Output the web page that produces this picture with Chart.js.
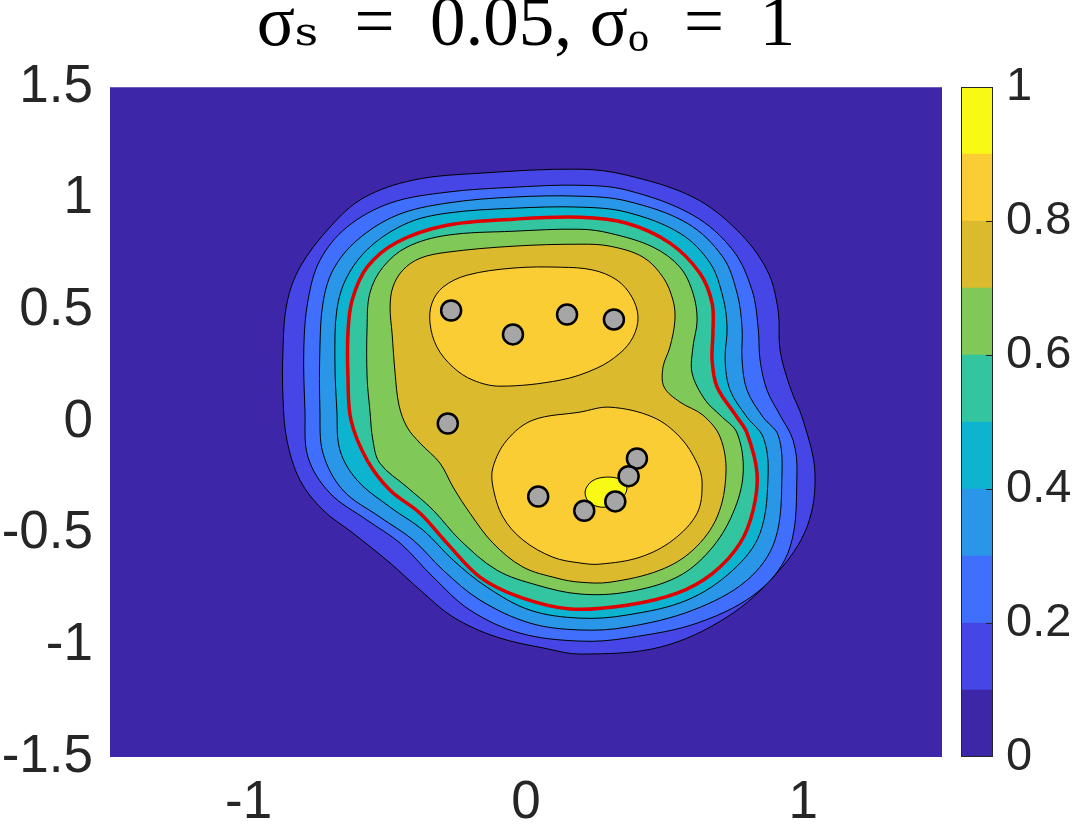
<!DOCTYPE html>
<html>
<head>
<meta charset="utf-8">
<script src="https://cdn.jsdelivr.net/npm/chart.js@4.4.1/dist/chart.umd.min.js"></script>
<style>
  body { margin: 0; background: #fff; }
  #wrap { position: relative; width: 1075px; height: 828px; }
  canvas { position: absolute; left: 0; top: 0; }
</style>
</head>
<body>
<div id="wrap">
  <canvas id="myChart" width="1075" height="828"></canvas>
  <canvas id="barChart" width="1075" height="828"></canvas>
</div>
<script>
// Colour bands of the filled contour (0-0.1, 0.1-0.2, ... 0.9-1)
var bandEdges = [0, 0.1, 0.2, 0.3, 0.4, 0.5, 0.6, 0.7, 0.8, 0.9, 1];
var bandColors = ['#3e26a8', '#4646e6', '#3f6ffc', '#2a96e8', '#0cb4cf',
                  '#33c4a0', '#80c857', '#dbba2e', '#fbcd34', '#f8fa15'];

// Tick labels
var xTicks = [-1, 0, 1];
var yTicks = [-1.5, -1, -0.5, 0, 0.5, 1, 1.5];
var barTicks = [0, 0.2, 0.4, 0.6, 0.8, 1];
var barMarks = [0.2, 0.4, 0.6, 0.8];

// The sample points (grey dots)
var sampleX = [-0.27, -0.047, 0.148, 0.317, -0.282, 0.400, 0.370, 0.044, 0.322, 0.210];
var sampleY = [0.500, 0.393, 0.482, 0.460, -0.006, -0.163, -0.242, -0.333, -0.355, -0.397];

// Contour lines, [x, y] per vertex
var c1 = [[0.195, 1.133], [0.364, 1.106], [0.602, 1.008], [0.761, 0.860], [0.869, 0.681],
  [0.909, 0.502], [0.916, 0.322], [0.952, 0.157], [0.999, 0.009], [1.042, -0.228],
  [1.013, -0.470], [0.905, -0.676], [0.725, -0.873], [0.483, -1.008], [0.195, -1.039],
  [0.076, -1.015], [-0.105, -0.963], [-0.263, -0.873], [-0.382, -0.752], [-0.490, -0.631],
  [-0.624, -0.497], [-0.732, -0.394], [-0.815, -0.260], [-0.862, -0.081], [-0.876, 0.099],
  [-0.876, 0.336], [-0.862, 0.533], [-0.815, 0.694], [-0.707, 0.873], [-0.588, 1.003],
  [-0.407, 1.084], [-0.166, 1.115]];

var c2 = [[0.195, 1.061], [0.364, 1.039], [0.602, 0.927], [0.746, 0.770], [0.815, 0.591],
  [0.837, 0.425], [0.844, 0.278], [0.869, 0.143], [0.916, 0.031], [0.963, -0.081],
  [0.977, -0.228], [0.952, -0.560], [0.844, -0.752], [0.627, -0.896], [0.364, -0.967],
  [0.195, -0.981], [-0.022, -0.945], [-0.202, -0.842], [-0.335, -0.694], [-0.454, -0.542],
  [-0.573, -0.439], [-0.707, -0.318], [-0.786, -0.157], [-0.797, 0.054], [-0.801, 0.336],
  [-0.786, 0.546], [-0.743, 0.725], [-0.646, 0.873], [-0.490, 0.981], [-0.285, 1.030],
  [-0.047, 1.052]];

var c3 = [[0.195, 1.012], [0.364, 0.990], [0.581, 0.891], [0.710, 0.739], [0.761, 0.578],
  [0.779, 0.425], [0.779, 0.278], [0.797, 0.143], [0.855, 0.022], [0.909, -0.058],
  [0.923, -0.228], [0.898, -0.528], [0.797, -0.708], [0.602, -0.842], [0.364, -0.918],
  [0.195, -0.931], [0.014, -0.900], [-0.166, -0.797], [-0.299, -0.663], [-0.407, -0.528],
  [-0.527, -0.425], [-0.660, -0.305], [-0.732, -0.139], [-0.743, 0.054], [-0.743, 0.336],
  [-0.732, 0.533], [-0.696, 0.681], [-0.609, 0.815], [-0.465, 0.927], [-0.285, 0.981],
  [-0.047, 1.008]];

var c4 = [[0.195, 0.963], [0.364, 0.940], [0.555, 0.846], [0.664, 0.712], [0.710, 0.560],
  [0.725, 0.425], [0.718, 0.278], [0.736, 0.143], [0.797, 0.022], [0.855, -0.067],
  [0.873, -0.228], [0.844, -0.497], [0.746, -0.663], [0.581, -0.797], [0.364, -0.864],
  [0.195, -0.878], [0.014, -0.842], [-0.141, -0.739], [-0.263, -0.618], [-0.371, -0.484],
  [-0.490, -0.381], [-0.609, -0.260], [-0.671, -0.125], [-0.682, 0.054], [-0.689, 0.278],
  [-0.682, 0.502], [-0.646, 0.649], [-0.563, 0.784], [-0.429, 0.891], [-0.285, 0.936],
  [-0.047, 0.958]];

// the red one, level 0.5
var c5 = [[0.195, 0.918], [0.364, 0.891], [0.519, 0.802], [0.627, 0.667], [0.671, 0.533],
  [0.674, 0.399], [0.671, 0.278], [0.689, 0.157], [0.761, 0.022], [0.797, -0.049],
  [0.833, -0.228], [0.819, -0.394], [0.772, -0.542], [0.674, -0.676], [0.545, -0.766],
  [0.364, -0.820], [0.159, -0.837], [-0.022, -0.784], [-0.166, -0.694], [-0.285, -0.542],
  [-0.382, -0.408], [-0.490, -0.305], [-0.573, -0.170], [-0.631, 0.009], [-0.642, 0.202],
  [-0.642, 0.399], [-0.627, 0.546], [-0.573, 0.694], [-0.465, 0.806], [-0.285, 0.882],
  [-0.047, 0.909]];

var c6 = [[0.195, 0.864], [0.303, 0.846], [0.458, 0.784], [0.555, 0.694], [0.602, 0.578],
  [0.617, 0.457], [0.602, 0.336], [0.599, 0.219], [0.646, 0.099], [0.700, 0.031],
  [0.761, -0.049], [0.783, -0.228], [0.746, -0.408], [0.664, -0.573], [0.545, -0.694],
  [0.364, -0.761], [0.195, -0.770], [0.040, -0.730], [-0.105, -0.663], [-0.238, -0.528],
  [-0.335, -0.394], [-0.429, -0.291], [-0.527, -0.184], [-0.552, -0.081], [-0.563, 0.054],
  [-0.573, 0.202], [-0.573, 0.425], [-0.563, 0.578], [-0.516, 0.694], [-0.429, 0.784],
  [-0.285, 0.837], [-0.047, 0.855]];

var c7 = [[0.195, 0.797], [0.303, 0.788], [0.422, 0.739], [0.494, 0.649], [0.530, 0.546],
  [0.537, 0.457], [0.519, 0.336], [0.494, 0.246], [0.498, 0.157], [0.555, 0.090],
  [0.638, 0.031], [0.700, -0.067], [0.721, -0.228], [0.689, -0.425], [0.602, -0.573],
  [0.483, -0.663], [0.303, -0.717], [0.195, -0.717], [0.112, -0.699], [-0.011, -0.649],
  [-0.119, -0.542], [-0.202, -0.408], [-0.263, -0.291], [-0.310, -0.184], [-0.382, -0.094],
  [-0.429, -0.022], [-0.458, 0.076], [-0.472, 0.219], [-0.483, 0.399], [-0.490, 0.515],
  [-0.480, 0.605], [-0.444, 0.681], [-0.382, 0.734], [-0.285, 0.761], [-0.047, 0.788]];

// level 0.8 comes in two pieces
var c8a = [[0.123, 0.694], [0.242, 0.681], [0.328, 0.636], [0.382, 0.560], [0.404, 0.470],
  [0.386, 0.381], [0.339, 0.309], [0.256, 0.242], [0.123, 0.188], [-0.094, 0.161],
  [-0.191, 0.188], [-0.263, 0.246], [-0.321, 0.336], [-0.346, 0.443], [-0.339, 0.533],
  [-0.299, 0.605], [-0.213, 0.658], [-0.047, 0.690]];

var c8b = [[0.195, 0.045], [0.303, 0.067], [0.458, 0.022], [0.555, -0.067], [0.617, -0.184],
  [0.635, -0.273], [0.617, -0.408], [0.530, -0.528], [0.411, -0.605], [0.267, -0.636],
  [0.195, -0.631], [0.097, -0.605], [-0.011, -0.528], [-0.083, -0.425], [-0.119, -0.291],
  [-0.119, -0.202], [-0.069, -0.081], [0.025, 0.009]];

var c9 = [[0.213, -0.313], [0.238, -0.264], [0.292, -0.246], [0.346, -0.260], [0.364, -0.300],
  [0.339, -0.349], [0.285, -0.381], [0.231, -0.363]];

var tickFont = { family: "'Liberation Sans', Arial, sans-serif", size: 53 };
var barFont = { family: "'Liberation Sans', Arial, sans-serif", size: 47 };
var textColor = '#262626';

function toXY(pts) {
  return pts.map(function (p) { return { x: p[0], y: p[1] }; });
}

// plain number labels: 1 not 1.0
function plainLabel(v) { return String(v); }

function contour(pts, level, order) {
  var red = level === 0.5;
  return {
    data: toXY(pts),
    closed: true,
    bandColor: bandColors[bandEdges.indexOf(level)],
    borderColor: red ? '#e00000' : '#000000',
    borderWidth: red ? 3.5 : 1,
    pointRadius: 0,
    tension: 0.35,
    fill: false,
    order: order
  };
}

// closes each contour, fills it with its band colour before the line is drawn
var contourPlugin = {
  id: 'contourFill',
  afterDatasetUpdate: function (chart, args) {
    var ds = chart.data.datasets[args.index];
    if (ds.closed && args.meta.dataset) {
      var line = args.meta.dataset;
      line._loop = true;
      line._fullLoop = true;
      delete line._segments;
      line._pointsUpdated = false;
    }
  },
  beforeDatasetsDraw: function (chart) {
    var a = chart.chartArea;
    var ctx = chart.ctx;
    ctx.save();
    ctx.fillStyle = bandColors[0];
    ctx.fillRect(a.left, a.top, a.right - a.left, a.bottom - a.top);
    ctx.restore();
  },
  beforeDatasetDraw: function (chart, args) {
    var ds = chart.data.datasets[args.index];
    if (!ds.bandColor) return;
    var line = args.meta.dataset;
    line.updateControlPoints(chart.chartArea, 'x');
    var ctx = chart.ctx;
    ctx.save();
    ctx.beginPath();
    line.path(ctx);
    ctx.closePath();
    ctx.fillStyle = ds.bandColor;
    ctx.fill();
    ctx.restore();
  }
};

var datasets = [
  {
    data: sampleX.map(function (x, i) { return { x: x, y: sampleY[i] }; }),
    showLine: false,
    pointRadius: 10,
    pointHoverRadius: 10,
    pointBackgroundColor: '#a6a6a6',
    pointBorderColor: '#000000',
    pointBorderWidth: 2.5,
    order: 0
  },
  contour(c9, 0.9, 1),
  contour(c8b, 0.8, 2),
  contour(c8a, 0.8, 3),
  contour(c7, 0.7, 4),
  contour(c6, 0.6, 5),
  contour(c5, 0.5, 6),
  contour(c4, 0.4, 7),
  contour(c3, 0.3, 8),
  contour(c2, 0.2, 9),
  contour(c1, 0.1, 10)
];

var ctx = document.getElementById('myChart');
var myChart = new Chart(ctx, {
  type: 'line',
  data: { datasets: datasets },
  options: {
    responsive: false,
    animation: false,
    devicePixelRatio: 1,
    layout: { padding: { left: 0, right: 133, top: 0, bottom: 0 } },
    plugins: {
      legend: { display: false },
      tooltip: { enabled: false },
      title: {
        display: true,
        fullSize: false,
        text: 'σₛ\u2002=\u20020.05, σₒ\u2002=\u20021',
        color: '#000000',
        font: { family: "'Liberation Serif', 'DejaVu Serif', serif", size: 71, weight: 'normal', lineHeight: 0.75 },
        padding: { top: 0, bottom: 34 }
      }
    },
    scales: {
      x: {
        type: 'linear',
        min: -1.5,
        max: 1.5,
        grid: { display: false, drawTicks: false },
        border: { display: false },
        ticks: { font: tickFont, color: textColor, padding: 15, maxRotation: 0, autoSkip: false, callback: plainLabel },
        afterBuildTicks: function (s) { s.ticks = xTicks.map(function (v) { return { value: v }; }); },
        afterFit: function (s) { s.height = 71; }
      },
      y: {
        type: 'linear',
        min: -1.5,
        max: 1.5,
        grid: { display: false, drawTicks: false },
        border: { display: false },
        ticks: { font: tickFont, color: textColor, padding: 17, autoSkip: false, callback: plainLabel },
        afterBuildTicks: function (s) { s.ticks = yTicks.map(function (v) { return { value: v }; }); },
        afterFit: function (s) { s.width = 110; }
      }
    }
  },
  plugins: [contourPlugin]
});

// colour bar
var barFrame = {
  id: 'barFrame',
  afterDatasetsDraw: function (chart) {
    var a = chart.chartArea;
    var c = chart.ctx;
    var y = chart.scales.y;
    c.save();
    c.strokeStyle = textColor;
    c.lineWidth = 1;
    c.strokeRect(a.left + 0.5, a.top + 0.5, a.right - a.left - 1, a.bottom - a.top - 1);
    c.beginPath();
    barMarks.forEach(function (v) {
      var py = Math.round(y.getPixelForValue(v)) + 0.5;
      c.moveTo(a.right - 7, py);
      c.lineTo(a.right, py);
    });
    c.stroke();
    c.restore();
  }
};

var ctx2 = document.getElementById('barChart');
var barChart = new Chart(ctx2, {
  type: 'bar',
  data: {
    labels: [''],
    datasets: bandColors.map(function (col, i) {
      return {
        data: [[bandEdges[i], bandEdges[i + 1]]],
        backgroundColor: col,
        borderWidth: 0,
        grouped: false,
        barPercentage: 1,
        categoryPercentage: 1
      };
    })
  },
  options: {
    responsive: false,
    animation: false,
    devicePixelRatio: 1,
    layout: { padding: { left: 961, right: 0, top: 87, bottom: 71 } },
    plugins: { legend: { display: false }, tooltip: { enabled: false } },
    scales: {
      x: { display: false },
      y: {
        position: 'right',
        min: 0,
        max: 1,
        grid: { display: false, drawTicks: false },
        border: { display: false },
        ticks: { font: barFont, color: textColor, padding: 13, autoSkip: false, callback: plainLabel },
        afterBuildTicks: function (s) { s.ticks = barTicks.map(function (v) { return { value: v }; }); },
        afterFit: function (s) { s.width = 82; }
      }
    }
  },
  plugins: [barFrame]
});
</script>
</body>
</html>
